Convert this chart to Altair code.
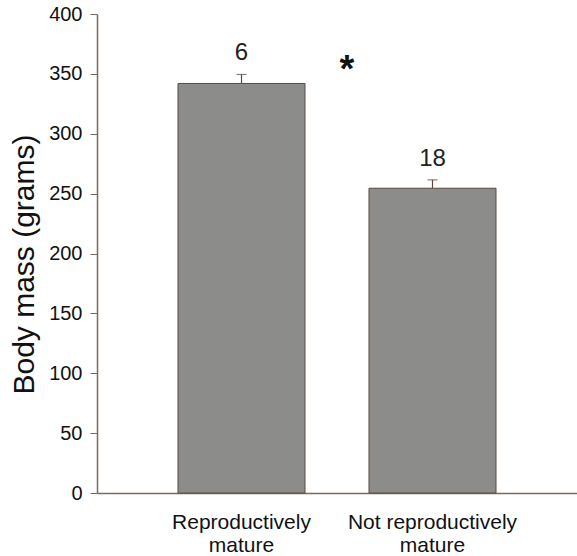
import altair as alt
import pandas as pd

categories = ["Reproductively mature", "Not reproductively mature"]
means = [342, 254.5]
errors = [7.5, 7]
counts = ["6", "18"]
sig_label = "*"
sig_value = 358

df = pd.DataFrame({
    "group": categories,
    "mean": means,
    "err": errors,
    "n": counts,
})
df["top"] = df["mean"] + df["err"]

FONT = "Liberation Sans"

x = alt.X(
    "group:N",
    sort=categories,
    scale=alt.Scale(paddingInner=0.335, paddingOuter=0.424),
    axis=alt.Axis(
        title=None,
        ticks=False,
        labelAngle=0,
        labelFontSize=21,
        labelFont=FONT,
        labelColor="#111",
        labelPadding=18,
        labelLineHeight=23,
        labelExpr="split(datum.label == 'Reproductively mature' ? 'Reproductively|mature' : 'Not reproductively|mature', '|')",
        domainColor="#7a6a60",
        domainWidth=1.5,
    ),
)
y = alt.Y(
    "mean:Q",
    scale=alt.Scale(domain=[0, 400], nice=False),
    axis=alt.Axis(
        title="Body mass (grams)",
        titleFont=FONT,
        titleFontSize=30,
        titleFontWeight="normal",
        titleColor="#111",
        titlePadding=9,
        titleY=250,
        values=list(range(0, 401, 50)),
        labelFont=FONT,
        labelFontSize=20,
        labelColor="#111",
        labelPadding=8,
        tickSize=7,
        tickColor="#7a6a60",
        domainColor="#7a6a60",
        domainWidth=1.5,
        grid=False,
    ),
)

base = alt.Chart(df)

bars = base.mark_bar(color="#8c8c8a", stroke="#5a4a40", strokeWidth=1).encode(x=x, y=y)
err = base.mark_rule(color="#5a4a40", strokeWidth=1.2).encode(
    x=alt.X("group:N", sort=categories), y="mean:Q", y2="top:Q"
)
cap = base.mark_tick(color="#5a4a40", thickness=1.2, size=10, orient="horizontal").encode(
    x=alt.X("group:N", sort=categories), y="top:Q"
)
labels = base.mark_text(font=FONT, fontSize=24, color="#222", dy=-21).encode(
    x=alt.X("group:N", sort=categories), y="top:Q", text="n:N"
)
sig_df = pd.DataFrame({"label": [sig_label], "v": [sig_value]})
sig = alt.Chart(sig_df).mark_text(
    font=FONT, fontSize=38, fontWeight="bold", color="#111", baseline="middle", dy=7
).encode(x=alt.value(250), y=alt.Y("v:Q"), text="label:N")

chart = (
    alt.layer(bars, err, cap, labels, sig)
    .properties(
        width=480,
        height=479,
        padding={"left": 97, "top": 14, "right": 0, "bottom": 63},
        autosize=alt.AutoSizeParams(type="none"),
        background="white",
    )
    .configure_view(stroke=None)
)

chart.save("out.html", embed_options={"renderer": "svg", "actions": False})
